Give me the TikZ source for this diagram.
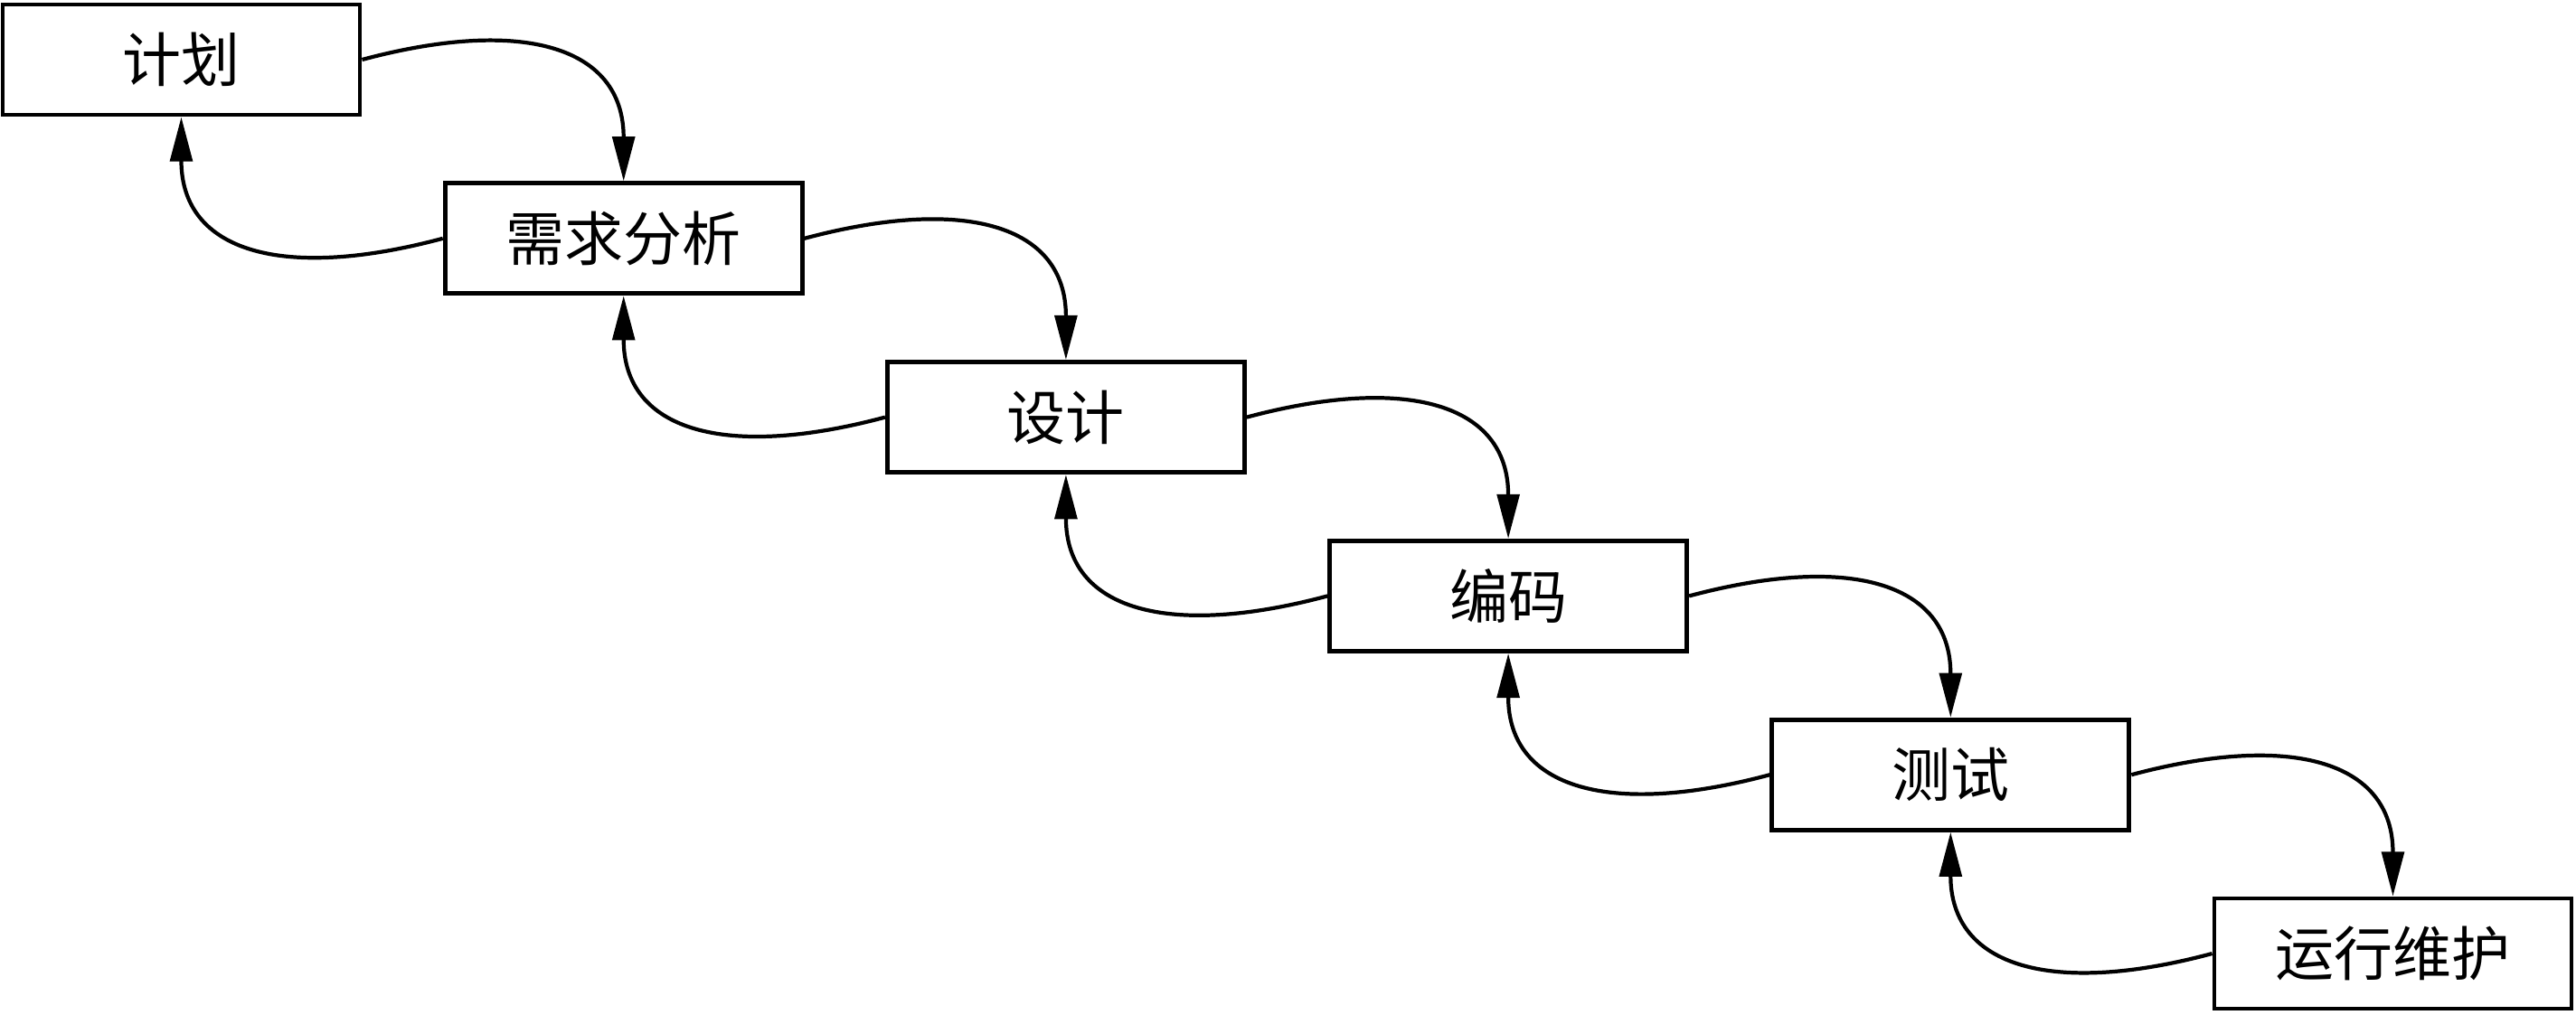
\documentclass[tikz,border=0pt]{standalone}
\usepackage{fontspec}
\newfontfamily\cjk{Noto Sans CJK SC}
\usepackage{tikz}
\usetikzlibrary{arrows.meta}

\begin{document}
\begin{tikzpicture}
        \useasboundingbox (0,0) rectangle (28.49,-11.22);

        \begin{scope}[every node/.style={draw,line width=1.4pt,rectangle,minimum width=3.95cm,minimum height=1.22cm,inner sep=0pt,font=\cjk\fontsize{18.5pt}{20pt}\selectfont}]
            \node (plan)   at (2.005,-0.66)   {计划};
            \node (req)    at (6.897,-2.638)  {需求分析};
            \node (design) at (11.789,-4.616) {设计};
            \node (code)   at (16.681,-6.594) {编码};
            \node (test)   at (21.573,-8.572) {测试};
            \node (run)    at (26.465,-10.55) {运行维护};
        \end{scope}

        \begin{scope}[>={Triangle[length=14pt,width=7pt]},
                      every edge/.style={draw=black,line width=1.2pt}]
            % forward
            \path [->] (plan.east)   edge[out=15,in=90,out distance=1.82cm,in distance=1.5cm] (req.north);
            \path [->] (req.east)    edge[out=15,in=90,out distance=1.82cm,in distance=1.5cm] (design.north);
            \path [->] (design.east) edge[out=15,in=90,out distance=1.82cm,in distance=1.5cm] (code.north);
            \path [->] (code.east)   edge[out=15,in=90,out distance=1.82cm,in distance=1.5cm] (test.north);
            \path [->] (test.east)   edge[out=15,in=90,out distance=1.82cm,in distance=1.5cm] (run.north);
            % back
            \path [->] (req.west)    edge[out=195,in=-90,out distance=1.82cm,in distance=1.5cm] (plan.south);
            \path [->] (design.west) edge[out=195,in=-90,out distance=1.82cm,in distance=1.5cm] (req.south);
            \path [->] (code.west)   edge[out=195,in=-90,out distance=1.82cm,in distance=1.5cm] (design.south);
            \path [->] (test.west)   edge[out=195,in=-90,out distance=1.82cm,in distance=1.5cm] (code.south);
            \path [->] (run.west)    edge[out=195,in=-90,out distance=1.82cm,in distance=1.5cm] (test.south);
        \end{scope}
    \end{tikzpicture}
\end{document}
